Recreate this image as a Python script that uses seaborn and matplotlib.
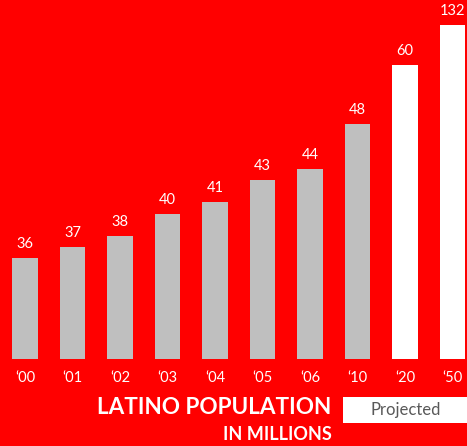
import numpy as np
import matplotlib
matplotlib.use("Agg")
import matplotlib.pyplot as plt
from matplotlib.patches import Rectangle
import seaborn as sns

years = ["\u201800", "\u201801", "\u201802", "\u201803", "\u201804", "\u201805", "\u201806", "\u201810", "\u201820", "\u201850"]
population = [36, 37, 38, 40, 41, 43, 44, 48, 60, 132]
projected = [False, False, False, False, False, False, False, False, True, True]

RED = "#FF0000"
GRAY = "#BFBFBF"
WHITE = "#FFFFFF"

sns.set_theme(style="white")
plt.rcParams["font.family"] = ["Lato", "DejaVu Sans"]

W, H = 467, 446
fig = plt.figure(figsize=(W / 100, H / 100), dpi=100, facecolor=RED)
ax = fig.add_axes([1.25 / W, (H - 359) / H, (W - 1.25) / W, 359 / H])
ax.set_facecolor(RED)

# broken (piecewise-linear) value axis, as in the original graphic
kv = np.array([27.0, 48.0, 60.0, 132.0, 300.0])
kp = np.array([0.0, 235.0, 294.0, 334.0, 334.0 + 168 * 40 / 72])
fwd = lambda v: np.interp(v, kv, kp)
inv = lambda p: np.interp(p, kp, kv)
ax.set_yscale("function", functions=(fwd, inv))

colors = [WHITE if p else GRAY for p in projected]
sns.barplot(x=years, y=population, hue=years, palette=colors, legend=False,
            width=0.545, saturation=1, ax=ax, linewidth=0)
ax.set_ylim(27, float(inv(359)))
ax.set_xlim(-0.5, (W - 1.25) / 47.5 - 0.5)

for c in ax.containers:
    ax.bar_label(c, fmt="%g", padding=5, color="white", fontsize=10.5)

ax.set_yticks([])
ax.tick_params(axis="x", length=0, pad=9, labelsize=10.5, labelcolor="white")
for s in ax.spines.values():
    s.set_visible(False)
ax.set_xlabel("")
ax.set_ylabel("")

fig.text(331 / W, 1 - 407 / H, "LATINO POPULATION", ha="right", va="center",
         color="white", fontsize=16.2, fontweight="bold")
fig.text(332 / W, 1 - 435 / H, "IN MILLIONS", ha="right", va="center",
         color="white", fontsize=13, fontweight="bold")
fig.patches.append(Rectangle((343 / W, 1 - 423 / H), (W - 343) / W, 26 / H,
                             transform=fig.transFigure, facecolor="white",
                             edgecolor="none"))
fig.text(406 / W, 1 - 410 / H, "Projected", ha="center", va="center",
         color="#595959", fontsize=12)

fig.savefig("out.png", dpi=100, facecolor=RED)
